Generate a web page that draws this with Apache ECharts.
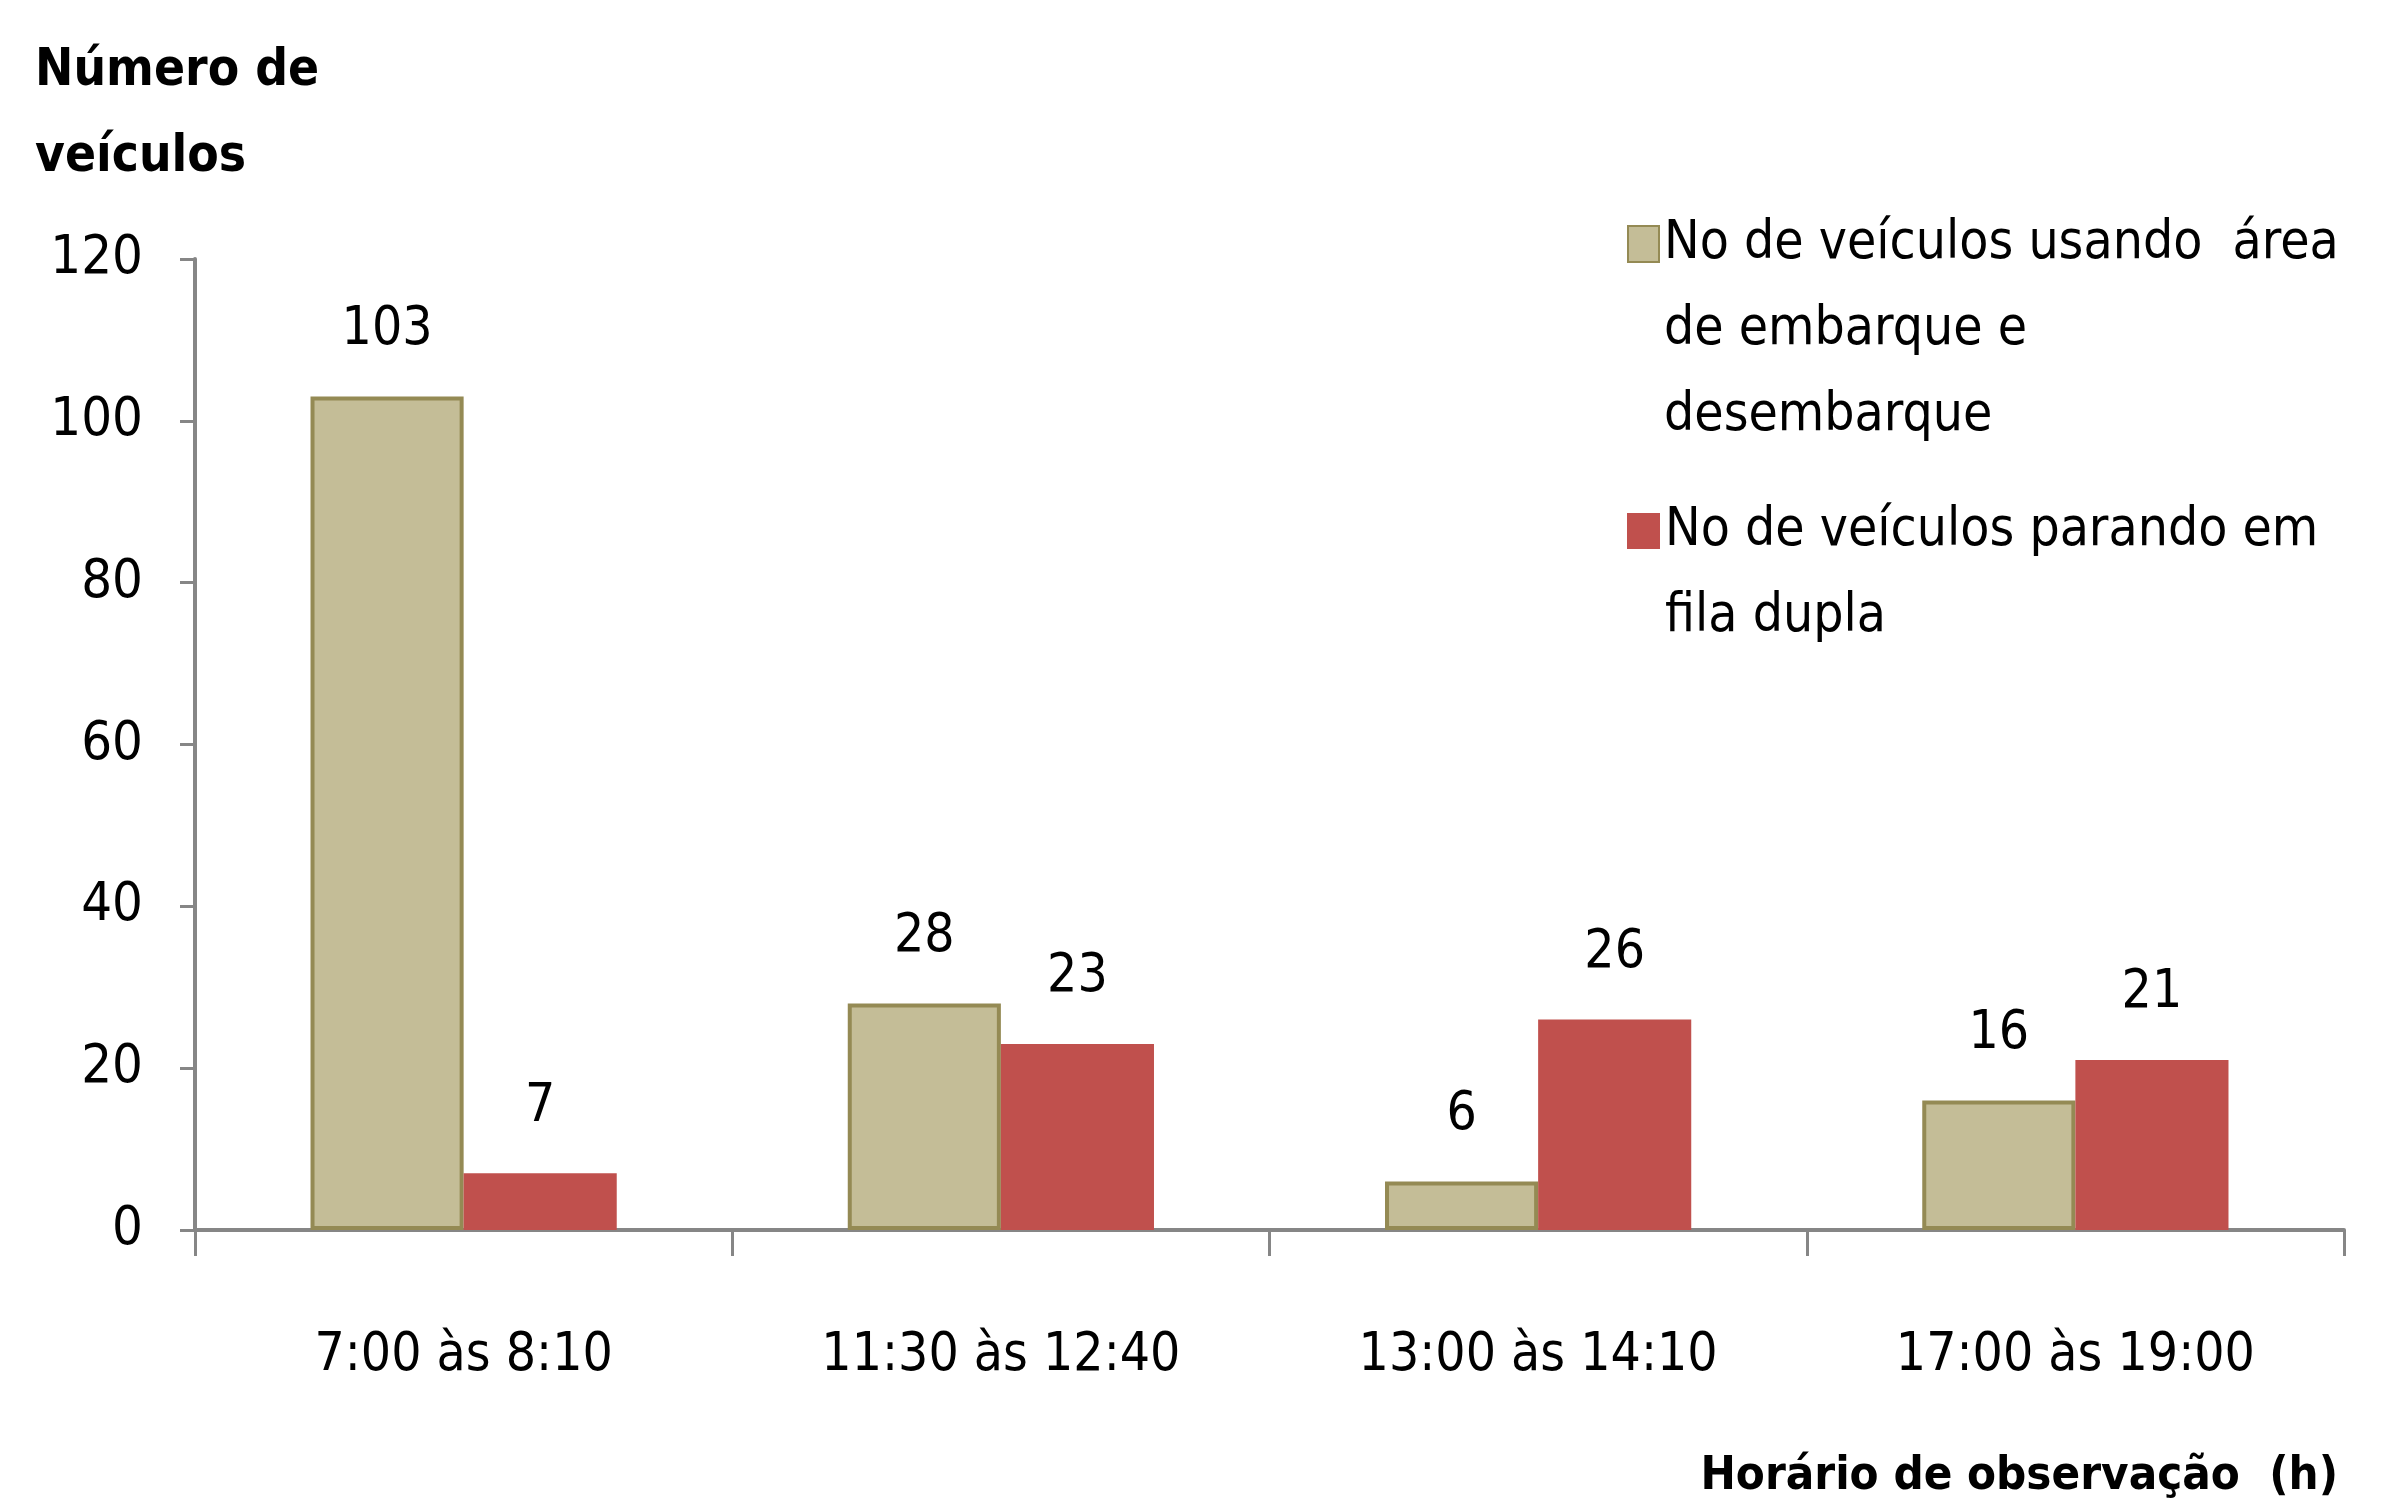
<!DOCTYPE html>
<html>
<head>
<meta charset="utf-8">
<script src="https://cdn.jsdelivr.net/npm/echarts@6/dist/echarts.min.js"></script>
<style>
html, body { margin: 0; padding: 0; background: #fff; }
#chart { width: 2387px; height: 1504px; }
</style>
</head>
<body>
<div id="chart"></div>
<script>
var categorias = ['7:00 às 8:10', '11:30 às 12:40', '13:00 às 14:10', '17:00 às 19:00'];
var usandoArea = [103, 28, 6, 16];
var filaDupla = [7, 23, 26, 21];
var nomeA = 'No de veículos usando  área\nde embarque e\ndesembarque';
var nomeB = 'No de veículos parando em\nfila dupla';

var fonte = "'Liberation Sans Narrow', 'DejaVu Sans Condensed', sans-serif";
var chart = echarts.init(document.getElementById('chart'));

// empurra o texto da legenda para baixo, primeira linha alinhada com o icone
function legendaTopo(name) {
	var n = name.split('\n').length;
	return new Array(n).join('\n') + name;
}

var option = {
	animation: false,
	textStyle: { fontFamily: fonte },
	title: [{
		text: 'Número de\nveículos',
		left: 30, top: 24,
		textStyle: { fontFamily: fonte, fontWeight: 'bold', fontSize: 51, lineHeight: 86, color: '#000' }
	}, {
		text: 'Horário de observação  (h)',
		right: 44, top: 1448,
		textStyle: { fontFamily: fonte, fontWeight: 'bold', fontSize: 47, color: '#000' }
	}],
	legend: [{
		data: [nomeA],
		orient: 'vertical',
		left: 1622, top: 24,
		padding: 5,
		itemWidth: 31, itemHeight: 36,
		icon: 'rect',
		selectedMode: false,
		formatter: legendaTopo,
		textStyle: { fontFamily: fonte, fontSize: 53, lineHeight: 86, color: '#000' }
	}, {
		data: [nomeB],
		orient: 'vertical',
		left: 1622, top: 397,
		padding: 5,
		itemWidth: 33, itemHeight: 36,
		icon: 'rect',
		selectedMode: false,
		formatter: legendaTopo,
		textStyle: { fontFamily: fonte, fontSize: 53, lineHeight: 86, color: '#000' }
	}],
	grid: { left: 195, right: 43, top: 259, bottom: 274 },
	xAxis: {
		type: 'category',
		data: categorias,
		axisLine: { lineStyle: { color: '#868686', width: 4 } },
		axisTick: { show: true, alignWithLabel: false, interval: 0, length: 26, lineStyle: { color: '#868686', width: 3 } },
		axisLabel: { fontFamily: fonte, fontSize: 53, color: '#000', margin: 100 }
	},
	yAxis: {
		type: 'value',
		min: 0, max: 120, interval: 20,
		splitLine: { show: false },
		axisLine: { show: true, lineStyle: { color: '#868686', width: 4 } },
		axisTick: { show: true, length: 15, lineStyle: { color: '#868686', width: 3 } },
		axisLabel: { fontFamily: fonte, fontSize: 54, color: '#000', margin: 52 }
	},
	series: [{
		name: nomeA,
		type: 'bar',
		data: usandoArea,
		barGap: '0%',
		barCategoryGap: '43%',
		itemStyle: { color: '#C4BD97', borderColor: '#948A54', borderWidth: 4 },
		label: { show: true, position: 'top', distance: 40, fontFamily: fonte, fontSize: 53, color: '#000' }
	}, {
		name: nomeB,
		type: 'bar',
		data: filaDupla,
		itemStyle: { color: '#C0504D' },
		label: { show: true, position: 'top', distance: 40, fontFamily: fonte, fontSize: 53, color: '#000' }
	}]
};
chart.setOption(option);
</script>
</body>
</html>
